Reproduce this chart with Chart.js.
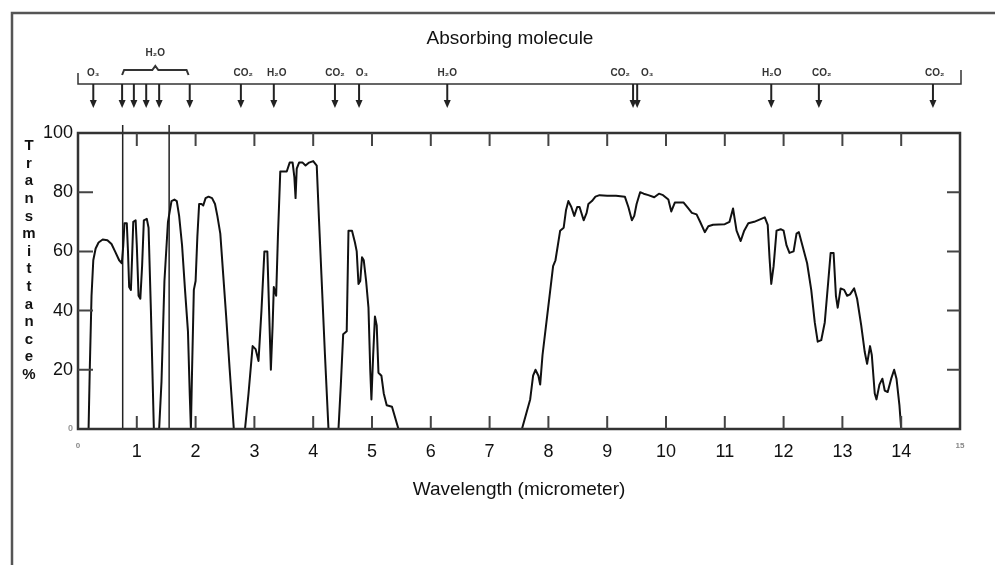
<!DOCTYPE html>
<html>
<head>
<meta charset="utf-8">
<script src="https://cdn.jsdelivr.net/npm/chart.js@4.4.1/dist/chart.umd.min.js"></script>
<style>
  html, body { margin: 0; padding: 0; background: #ffffff; }
  canvas { display: block; }
</style>
</head>
<body>
<canvas id="c" width="995" height="565"></canvas>
<script>
// ---------- DATA ----------
const wavelength = [
  0, 0.18, 0.2, 0.23, 0.26, 0.3, 0.35, 0.42, 0.5, 0.57, 0.63, 0.7, 0.745,
  0.77, 0.79, 0.83, 0.85, 0.87, 0.9, 0.92, 0.94, 0.98, 1.0, 1.03, 1.06, 1.09, 1.12, 1.17, 1.2, 1.24, 1.29,
  1.38, 1.42, 1.47, 1.53, 1.59, 1.64, 1.68, 1.72, 1.77, 1.82, 1.87, 1.9, 1.92,
  1.94, 1.97, 2.0, 2.03, 2.06, 2.1, 2.13, 2.17, 2.22, 2.28, 2.33, 2.37, 2.42, 2.47, 2.52, 2.58, 2.65,
  2.84, 2.9, 2.97, 3.02, 3.07, 3.12, 3.17, 3.22, 3.25, 3.28, 3.31, 3.33, 3.37, 3.4, 3.44, 3.5, 3.55, 3.6,
  3.65, 3.68, 3.7, 3.72, 3.76, 3.82, 3.87, 3.93, 4.0, 4.06, 4.1, 4.14, 4.2, 4.26,
  4.43, 4.47, 4.51, 4.57, 4.6, 4.66, 4.71, 4.74, 4.77, 4.8, 4.83, 4.86, 4.9, 4.94, 4.97, 4.99,
  5.02, 5.05, 5.08, 5.11, 5.16, 5.2, 5.25, 5.34, 5.45,
  7.55, 7.62, 7.69, 7.74, 7.78, 7.83, 7.86, 7.9, 7.96, 8.02, 8.08, 8.12, 8.16, 8.2, 8.26, 8.3, 8.34,
  8.39, 8.44, 8.49, 8.53, 8.6, 8.65, 8.68, 8.74, 8.8, 8.87, 9.0, 9.15, 9.3, 9.36, 9.42, 9.46, 9.5,
  9.56, 9.62, 9.7, 9.8, 9.88, 9.95, 10.04, 10.09, 10.15, 10.3, 10.38, 10.44, 10.52, 10.58, 10.66,
  10.72, 10.8, 11.0, 11.08, 11.14, 11.2, 11.27, 11.33, 11.4, 11.5, 11.62, 11.68, 11.73, 11.76, 11.79,
  11.83, 11.88, 11.95, 12.0, 12.05, 12.1, 12.17, 12.22, 12.26, 12.32, 12.4, 12.47, 12.53, 12.58, 12.64,
  12.7, 12.76, 12.8, 12.85, 12.89, 12.92, 12.97, 13.03, 13.08, 13.13, 13.2, 13.25, 13.32, 13.38, 13.42,
  13.47, 13.5, 13.55, 13.58, 13.63, 13.68, 13.72, 13.77, 13.83, 13.88, 13.92, 13.97, 14.0, 15.0
];
const transmittance = [
  0, 0, 20, 45, 57, 61, 63, 64, 63.8, 62.5, 60, 57, 56,
  62, 69.5, 69.5, 60, 48, 47, 58, 70, 70.5, 62, 45, 44, 55, 70.5, 71, 68, 40, 0,
  0, 16, 50, 70, 77, 77.5, 77, 72, 62, 47, 33, 12, 0,
  20, 47, 50, 65, 76, 76, 75.5, 78, 78.5, 78, 76, 72, 66, 52, 38, 20, 0,
  0, 12, 28, 27, 23, 40, 60, 60, 40, 20, 35, 48, 45, 65, 87, 87, 87, 90,
  90, 85, 78, 88, 90, 90, 89, 90, 90.5, 89, 70, 52, 25, 0,
  0, 15, 32, 33, 67, 67, 63, 60, 49, 50, 58, 57, 50, 41, 20, 10,
  25, 38, 35, 19, 18, 12, 8, 7.5, 0,
  0, 5, 10, 18, 20, 18, 15, 25, 35, 45, 55, 57, 62, 67, 68, 74, 77,
  75, 72, 75, 75, 70.5, 73, 76, 77, 78.5, 79, 78.8, 78.8, 78.5, 75, 70.5, 72, 76,
  80, 79.5, 79, 78.3, 79.5, 79, 77.5, 73.5, 76.5, 76.5, 74.5, 73, 72.5, 70, 66.5,
  68.5, 69, 69.2, 70, 74.5, 67, 63.5, 67, 69.5, 70, 71, 71.5, 69, 58, 49,
  55, 67, 67.5, 67, 62, 59.5, 60, 66, 66.5, 62, 56, 47, 36, 29.5, 30,
  36, 50, 59.5, 59.5, 45, 41, 47.5, 47, 45, 45.5, 47.5, 44, 35, 26, 22,
  28, 25, 12, 10, 15, 17, 13, 12.5, 17, 20, 17, 8, 0, 0
];
// vertical lines at the edges of the visible band (micrometer) and their top (%)
const bandEdges = [0.76, 1.55];
const bandEdgeTop = 102.7;
// absorbing molecules: arrow positions (micrometer)
const absorberArrows = [0.26, 0.75, 0.95, 1.16, 1.38, 1.9, 2.77, 3.33, 4.37, 4.78, 6.28, 9.44, 9.51, 11.79, 12.6, 14.54];
// absorbing molecules: labels and their positions (micrometer)
const absorberLabels = ['O\u2083', 'CO\u2082', 'H\u2082O', 'CO\u2082', 'O\u2083', 'H\u2082O', 'CO\u2082', 'O\u2083', 'H\u2082O', 'CO\u2082', 'CO\u2082'];
const absorberLabelPos = [0.26, 2.81, 3.38, 4.37, 4.83, 6.28, 9.22, 9.68, 11.8, 12.65, 14.57];
// bracket grouping the near-infrared water bands
const waterBracketRange = [0.75, 1.88];
const waterBracketLabel = 'H\u2082O';
const topTitle = 'Absorbing molecule';
const yTitleLetters = ['T','r','a','n','s','m','i','t','t','a','n','c','e','%'];

// ---------- CHART ----------
const FONT = "'Liberation Sans', Arial, 'DejaVu Sans', sans-serif";

const decorPlugin = {
  id: 'decor',
  beforeDraw(chart) {
    const ctx = chart.ctx;
    ctx.save();
    ctx.fillStyle = '#ffffff';
    ctx.fillRect(0, 0, chart.width, chart.height);
    ctx.restore();
  },
  afterDraw(chart) {
    const ctx = chart.ctx;
    const xs = chart.scales.x, ys = chart.scales.y;
    const a = chart.chartArea;
    ctx.save();

    // figure border (left and top)
    ctx.strokeStyle = '#555';
    ctx.lineWidth = 2.5;
    ctx.beginPath();
    ctx.moveTo(12, 565); ctx.lineTo(12, 13); ctx.lineTo(995, 13);
    ctx.stroke();

    // plot frame
    ctx.strokeStyle = '#333';
    ctx.lineWidth = 2.5;
    ctx.strokeRect(a.left, a.top, a.right - a.left, a.bottom - a.top);

    // inner ticks
    ctx.lineWidth = 2;
    ctx.strokeStyle = '#444';
    xs.ticks.forEach(t => {
      if (t.value <= xs.min || t.value >= xs.max) return;
      const px = xs.getPixelForValue(t.value);
      ctx.beginPath();
      ctx.moveTo(px, a.top); ctx.lineTo(px, a.top + 13);
      ctx.moveTo(px, a.bottom); ctx.lineTo(px, a.bottom - 13);
      ctx.stroke();
    });
    ys.ticks.forEach(t => {
      if (t.value <= ys.min || t.value >= ys.max) return;
      const py = ys.getPixelForValue(t.value);
      ctx.beginPath();
      ctx.moveTo(a.left, py); ctx.lineTo(a.left + 15, py);
      ctx.moveTo(a.right, py); ctx.lineTo(a.right - 13, py);
      ctx.stroke();
    });

    // y-axis title, letters stacked vertically
    ctx.fillStyle = '#111';
    ctx.font = 'bold 15px ' + FONT;
    ctx.textAlign = 'center';
    ctx.textBaseline = 'middle';
    yTitleLetters.forEach((ch, i) => ctx.fillText(ch, 29, 146 + i * 17.6));

    // top title
    ctx.font = '19px ' + FONT;
    ctx.fillText(topTitle, 510, 39);

    // absorbing-molecule baseline with end brackets
    const lineY = 84;
    ctx.strokeStyle = '#333';
    ctx.lineWidth = 1.5;
    ctx.beginPath();
    ctx.moveTo(a.left, 73); ctx.lineTo(a.left, lineY); ctx.lineTo(a.right + 1, lineY); ctx.lineTo(a.right + 1, 70);
    ctx.stroke();

    // water bracket
    const b0 = xs.getPixelForValue(waterBracketRange[0]);
    const b1 = xs.getPixelForValue(waterBracketRange[1]);
    const bm = (b0 + b1) / 2;
    ctx.lineWidth = 2;
    ctx.beginPath();
    ctx.moveTo(b0, 75); ctx.lineTo(b0 + 2, 70); ctx.lineTo(bm - 3, 70); ctx.lineTo(bm, 66);
    ctx.lineTo(bm + 3, 70); ctx.lineTo(b1 - 2, 70); ctx.lineTo(b1, 75);
    ctx.stroke();

    // arrows
    ctx.fillStyle = '#222';
    ctx.strokeStyle = '#222';
    absorberArrows.forEach(w => {
      const px = xs.getPixelForValue(w);
      ctx.lineWidth = 2;
      ctx.beginPath();
      ctx.moveTo(px, lineY); ctx.lineTo(px, 101);
      ctx.stroke();
      ctx.beginPath();
      ctx.moveTo(px - 3.5, 100); ctx.lineTo(px + 3.5, 100); ctx.lineTo(px, 108);
      ctx.closePath();
      ctx.fill();
    });

    // molecule labels
    ctx.font = 'bold 10px ' + FONT;
    ctx.fillStyle = '#333';
    absorberLabels.forEach((lab, i) => {
      ctx.fillText(lab, xs.getPixelForValue(absorberLabelPos[i]), 73);
    });
    ctx.fillText(waterBracketLabel, bm, 53);

    ctx.restore();
  }
};

const mainData = wavelength.map((w, i) => ({ x: w, y: transmittance[i] }));
const edgeSets = bandEdges.map(w => ({
  data: [{ x: w, y: 0 }, { x: w, y: bandEdgeTop }],
  borderColor: '#222', borderWidth: 1.5, pointRadius: 0, tension: 0, fill: false, clip: false
}));

new Chart(document.getElementById('c').getContext('2d'), {
  type: 'line',
  data: {
    datasets: [
      { data: mainData, borderColor: '#111', borderWidth: 2, pointRadius: 0, tension: 0, fill: false, borderJoinStyle: 'round' },
      ...edgeSets
    ]
  },
  options: {
    responsive: false,
    animation: false,
    devicePixelRatio: 1,
    layout: { padding: { left: 18, right: 35, top: 133, bottom: 0 } },
    plugins: { legend: { display: false }, tooltip: { enabled: false } },
    scales: {
      x: {
        type: 'linear', min: 0, max: 15,
        grid: { display: false, drawTicks: false },
        border: { display: false },
        ticks: {
          stepSize: 1, padding: 12, autoSkip: false, maxRotation: 0,
          color: (c) => (c.tick && (c.tick.value === 0 || c.tick.value === 15)) ? '#888' : '#111',
          font: (c) => (c.tick && (c.tick.value === 0 || c.tick.value === 15))
            ? { family: FONT, size: 8, weight: 'bold' } : { family: FONT, size: 18 }
        },
        title: {
          display: true, text: 'Wavelength (micrometer)', color: '#111',
          font: { family: FONT, size: 19 }, padding: { top: 4, bottom: 64 }
        },
        afterFit: (s) => { s.height = 136; }
      },
      y: {
        min: 0, max: 100,
        grid: { display: false, drawTicks: false },
        border: { display: false },
        ticks: {
          stepSize: 20, padding: 5,
          color: (c) => (c.tick && c.tick.value === 0) ? '#999' : '#111',
          font: (c) => (c.tick && c.tick.value === 0)
            ? { family: FONT, size: 9, weight: 'bold' } : { family: FONT, size: 18 }
        },
        afterFit: (s) => { s.width = 60; }
      }
    }
  },
  plugins: [decorPlugin]
});
</script>
</body>
</html>
